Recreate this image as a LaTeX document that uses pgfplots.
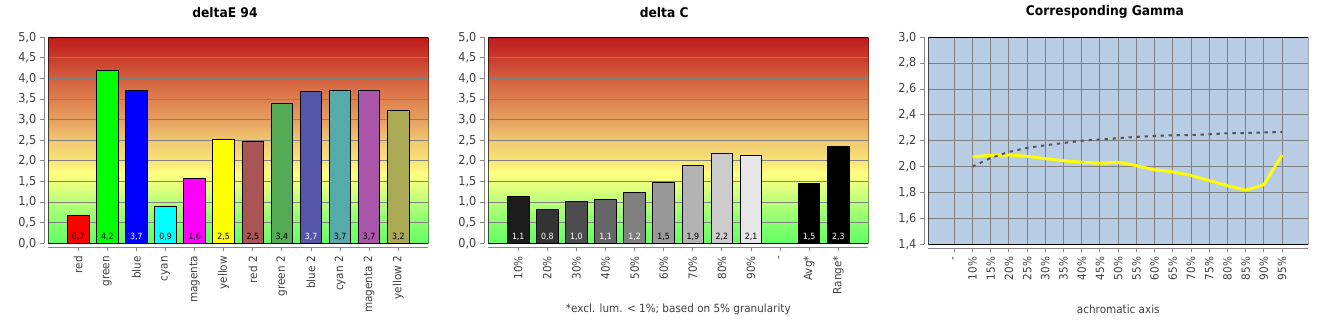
\documentclass[border=0pt]{standalone}
\usepackage{pgfplots}
\pgfplotsset{compat=1.18}
\usepackage{fontspec}
\setmainfont{DejaVu Sans}[FakeStretch=0.92]

\definecolor{s0}{RGB}{100,255,100}
\definecolor{s1}{RGB}{135,255,110}
\definecolor{s2}{RGB}{185,255,120}
\definecolor{s3}{RGB}{240,255,128}
\definecolor{s4}{RGB}{255,255,128}
\definecolor{s5}{RGB}{250,228,120}
\definecolor{s6}{RGB}{240,200,112}
\definecolor{s7}{RGB}{230,160,96}
\definecolor{s8}{RGB}{222,128,80}
\definecolor{s9}{RGB}{212,96,64}
\definecolor{s10}{RGB}{202,60,44}
\definecolor{s11}{RGB}{190,28,28}
\pgfdeclareverticalshading{deltabg}{100bp}{color(0bp)=(s0); color(25bp)=(s0); color(30bp)=(s1); color(35bp)=(s2); color(40bp)=(s3); color(42bp)=(s4); color(45bp)=(s5); color(50bp)=(s6); color(55bp)=(s7); color(60bp)=(s8); color(65bp)=(s9); color(70bp)=(s10); color(75bp)=(s11); color(100bp)=(s11)}

\definecolor{axgray}{RGB}{136,136,136}
\definecolor{gridgray}{RGB}{128,128,128}
\definecolor{tickcol}{RGB}{64,64,64}
\definecolor{gammabg}{RGB}{184,204,228}
\definecolor{cred}{RGB}{255,0,0}
\definecolor{cgreen}{RGB}{0,255,0}
\definecolor{cblue}{RGB}{0,0,255}
\definecolor{ccyan}{RGB}{0,255,255}
\definecolor{cmagenta}{RGB}{255,0,255}
\definecolor{cyellow}{RGB}{255,255,0}
\definecolor{redtwo}{RGB}{170,85,85}
\definecolor{greentwo}{RGB}{85,170,85}
\definecolor{bluetwo}{RGB}{85,85,170}
\definecolor{cyantwo}{RGB}{85,170,170}
\definecolor{magentatwo}{RGB}{170,85,170}
\definecolor{yellowtwo}{RGB}{170,170,85}
\definecolor{dotgray}{RGB}{85,85,85}
\definecolor{g10}{RGB}{28,28,28}
\definecolor{g20}{RGB}{51,51,51}
\definecolor{g30}{RGB}{77,77,77}
\definecolor{g40}{RGB}{102,102,102}
\definecolor{g50}{RGB}{128,128,128}
\definecolor{g60}{RGB}{153,153,153}
\definecolor{g70}{RGB}{179,179,179}
\definecolor{g80}{RGB}{204,204,204}
\definecolor{g90}{RGB}{230,230,230}

\newcommand\ticklbl{\fontsize{8.5}{10}\selectfont}
\newcommand\yticklbl{\fontsize{9.2}{11}\selectfont}
\newcommand\titlefont{\bfseries\fontsize{10}{12}\selectfont}
\newcommand\barlbl{\fontsize{6.4}{7}\selectfont}

\pgfplotsset{
  common/.style={
    scale only axis, width=285pt,
    axis x line*=bottom, axis y line*=left,
    x axis line style={draw=axgray, line width=0.75pt, yshift=-3pt},
    y axis line style={draw=axgray, line width=0.75pt, xshift=-3pt},
    tick align=outside, major tick length=3pt,
    xtick style={draw=axgray, line width=0.75pt, yshift=-3pt},
    ytick style={draw=axgray, line width=0.75pt, xshift=-3pt},
    xticklabel style={yshift=-6.4pt, rotate=90, anchor=east, inner sep=0pt, font=\ticklbl, text=tickcol},
    yticklabel style={xshift=-5.8pt, anchor=east, inner sep=0pt, font=\yticklbl, text=tickcol,
      /pgf/number format/.cd, fixed, fixed zerofill, precision=1, use comma, assume math mode=true},
    title style={font=\titlefont, anchor=center, inner sep=0pt},
    xlabel style={font=\ticklbl, text=tickcol, anchor=center, inner sep=0pt},
  },
  deltabar/.style={
    common, height=154.5pt,
    xmin=-1.03, xmax=12.03, ymin=0, ymax=5,
    ytick={0,0.5,1,1.5,2,2.5,3,3.5,4,4.5,5},
    xtick={0,...,11},
    ymajorgrids, major grid style={draw=gridgray, line width=0.75pt},
    axis background/.style={shade, shading=deltabg},
  },
  bar/.style={ybar, bar width=0.74, bar shift=0pt, draw=black, line width=0.75pt, fill=#1},
  lbl/.style={draw=none, mark=none, nodes near coords, point meta=explicit symbolic,
    nodes near coords style={anchor=base, inner sep=0pt, yshift=3.2pt, font=\barlbl, text=#1}},
}

\begin{document}
\begin{tikzpicture}
\path[use as bounding box] (0,0) rectangle (997.5pt,247.5pt);

% ---------------- deltaE 94 ----------------
\begin{axis}[deltabar, at={(36.2pt,65pt)}, anchor=south west,
  title={deltaE 94}, title style={at={(axis description cs:0.465,1.084)}},
  xticklabels={red,green,blue,cyan,magenta,yellow,red 2,green 2,blue 2,cyan 2,magenta 2,yellow 2}]
\addplot[bar=cred] coordinates {(0,0.67)};
\addplot[bar=cgreen] coordinates {(1,4.20)};
\addplot[bar=cblue] coordinates {(2,3.71)};
\addplot[bar=ccyan] coordinates {(3,0.90)};
\addplot[bar=cmagenta] coordinates {(4,1.57)};
\addplot[bar=cyellow] coordinates {(5,2.52)};
\addplot[bar=redtwo] coordinates {(6,2.48)};
\addplot[bar=greentwo] coordinates {(7,3.39)};
\addplot[bar=bluetwo] coordinates {(8,3.69)};
\addplot[bar=cyantwo] coordinates {(9,3.71)};
\addplot[bar=magentatwo] coordinates {(10,3.71)};
\addplot[bar=yellowtwo] coordinates {(11,3.23)};
\addplot[lbl=black] coordinates {(0,0)[0,7] (1,0)[4,2] (3,0)[0,9] (4,0)[1,6] (5,0)[2,5] (6,0)[2,5] (7,0)[3,4] (9,0)[3,7] (10,0)[3,7] (11,0)[3,2]};
\addplot[lbl=white] coordinates {(2,0)[3,7] (8,0)[3,7]};
\draw[line width=1pt] (rel axis cs:0,0) rectangle (rel axis cs:1,1);
\end{axis}

% ---------------- delta C ----------------
\begin{axis}[deltabar, at={(366.2pt,65pt)}, anchor=south west,
  title={delta C}, title style={at={(axis description cs:0.463,1.084)}},
  xticklabels={10\%,20\%,30\%,40\%,50\%,60\%,70\%,80\%,90\%,-,Avg*,Range*},
  xlabel={*excl. lum. < 1\%; based on 5\% granularity},
  xlabel style={at={(axis description cs:0.5,-0.319)}}]
\addplot[bar=g10] coordinates {(0,1.14)};
\addplot[bar=g20] coordinates {(1,0.83)};
\addplot[bar=g30] coordinates {(2,1.02)};
\addplot[bar=g40] coordinates {(3,1.07)};
\addplot[bar=g50] coordinates {(4,1.24)};
\addplot[bar=g60] coordinates {(5,1.48)};
\addplot[bar=g70] coordinates {(6,1.89)};
\addplot[bar=g80] coordinates {(7,2.18)};
\addplot[bar=g90] coordinates {(8,2.14)};
\addplot[bar=black] coordinates {(10,1.46)};
\addplot[bar=black] coordinates {(11,2.34)};
\addplot[lbl=white] coordinates {(0,0)[1,1] (1,0)[0,8] (2,0)[1,0] (3,0)[1,1] (4,0)[1,2] (10,0)[1,5] (11,0)[2,3]};
\addplot[lbl=black] coordinates {(5,0)[1,5] (6,0)[1,9] (7,0)[2,2] (8,0)[2,1]};
\draw[line width=1pt] (rel axis cs:0,0) rectangle (rel axis cs:1,1);
\end{axis}

% ---------------- Corresponding Gamma ----------------
\begin{axis}[common, at={(696.2pt,64.3pt)}, anchor=south west, height=155.25pt,
  xmin=-1.43, xmax=19.44, ymin=1.4, ymax=3.0,
  ytick={1.4,1.6,1.8,2.0,2.2,2.4,2.6,2.8,3.0},
  xtick={0,...,18},
  xticklabels={-,10\%,15\%,20\%,25\%,30\%,35\%,40\%,45\%,50\%,55\%,60\%,65\%,70\%,75\%,80\%,85\%,90\%,95\%},
  grid=major, major grid style={draw=gridgray, line width=0.75pt},
  axis background/.style={fill=gammabg},
  title={Corresponding Gamma}, title style={at={(axis description cs:0.465,1.0836)}},
  xlabel={achromatic axis}, xlabel style={at={(axis description cs:0.5,-0.3126)}}]
\addplot[cyellow, line width=2.2pt, mark=none] coordinates {
(1,2.075)(2,2.088)(3,2.090)(4,2.080)(5,2.062)(6,2.045)(7,2.034)(8,2.026)(9,2.034)
(10,2.008)(11,1.975)(12,1.960)(13,1.932)(14,1.892)(15,1.853)(16,1.818)(17,1.860)(18,2.090)};
\addplot[dotgray, line width=1.5pt, mark=none, dash pattern=on 2.5pt off 3.5pt] coordinates {
(1,2.000)(2,2.067)(3,2.114)(4,2.145)(5,2.165)(6,2.183)(7,2.200)(8,2.210)(9,2.220)
(10,2.230)(11,2.237)(12,2.242)(13,2.245)(14,2.250)(15,2.258)(16,2.260)(17,2.265)(18,2.268)};
\draw[line width=1pt] (rel axis cs:0,0) rectangle (rel axis cs:1,1);
\end{axis}
\end{tikzpicture}
\end{document}
